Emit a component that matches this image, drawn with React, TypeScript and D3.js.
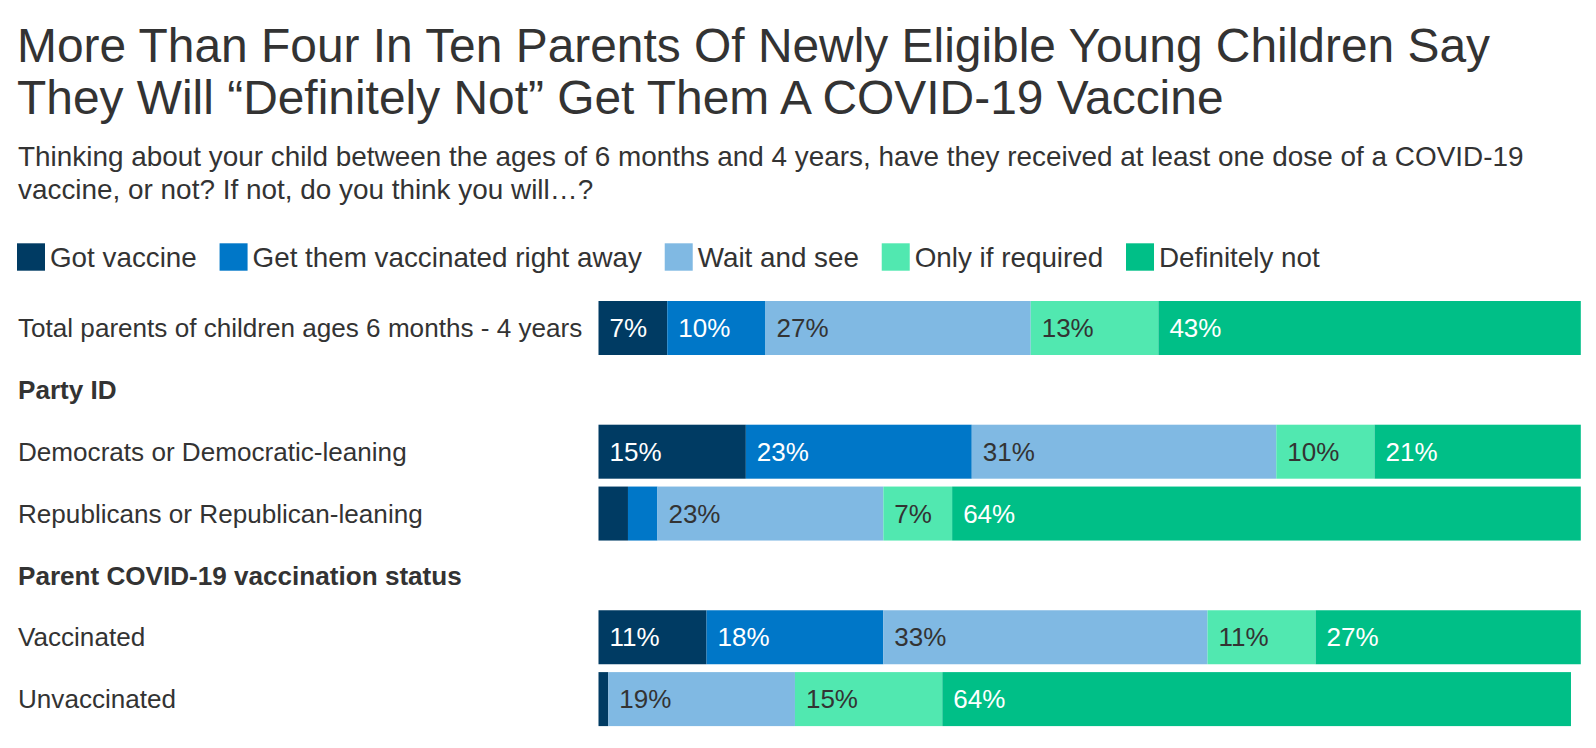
import React, { useMemo } from "react";
import * as d3 from "d3";

const title = [
  "More Than Four In Ten Parents Of Newly Eligible Young Children Say",
  "They Will \u201cDefinitely Not\u201d Get Them A COVID-19 Vaccine",
];
const subtitle = [
  "Thinking about your child between the ages of 6 months and 4 years, have they received at least one dose of a COVID-19",
  "vaccine, or not? If not, do you think you will\u2026?",
];

const seriesNames = [
  "Got vaccine",
  "Get them vaccinated right away",
  "Wait and see",
  "Only if required",
  "Definitely not",
];
const seriesColors = ["#003b63", "#0077c8", "#80b9e3", "#51e8b0", "#00bf87"];
const labelColors = ["#ffffff", "#ffffff", "#333333", "#333333", "#ffffff"];

const rowLabels = [
  "Total parents of children ages 6 months - 4 years",
  "Party ID",
  "Democrats or Democratic-leaning",
  "Republicans or Republican-leaning",
  "Parent COVID-19 vaccination status",
  "Vaccinated",
  "Unvaccinated",
];
const rowIsHeader = [false, true, false, false, true, false, false];

const gotVaccine = [7, null, 15, 3, null, 11, 1];
const rightAway = [10, null, 23, 3, null, 18, 0];
const waitAndSee = [27, null, 31, 23, null, 33, 19];
const onlyIfRequired = [13, null, 10, 7, null, 11, 15];
const definitelyNot = [43, null, 21, 64, null, 27, 64];

const seriesValues = [gotVaccine, rightAway, waitAndSee, onlyIfRequired, definitelyNot];

const FONT = "'Liberation Sans', Arial, Helvetica, sans-serif";
const TEXT = "#333333";

function measure(text: string, size: number, weight = "normal") {
  const c = document.createElement("canvas").getContext("2d")!;
  c.font = `${weight} ${size}px ${FONT}`;
  return c.measureText(text).width;
}

export default function App() {
  const W = 1596;
  const H = 748;

  const y = d3
    .scaleBand<number>()
    .domain(rowLabels.map((_, i) => i))
    .range([301, 726.1])
    .paddingInner(0.127)
    .paddingOuter(0);

  const x = d3.scaleLinear().domain([0, 100]).range([598.5, 1580.8]);

  const stackData = rowLabels.map((_, i) => {
    const o: Record<string, number> = {};
    seriesNames.forEach((s, k) => (o[s] = seriesValues[k][i] ?? 0));
    return o;
  });
  const stack = d3.stack<Record<string, number>>().keys(seriesNames)(stackData);

  const legendSize = 27.8;
  const legend = useMemo(() => {
    let cx = 17;
    return seriesNames.map((name) => {
      const item = { x: cx, name };
      cx += 33 + measure(name, legendSize) + 22.8;
      return item;
    });
  }, []);

  return (
    <svg
      width={W}
      height={H}
      style={{ position: "absolute", left: 0, top: 0, background: "#fff" }}
      fontFamily={FONT}
    >
      {title.map((t, i) => (
        <text key={i} x={17} y={62 + i * 51.5} fontSize={47.9} fill={TEXT}>
          {t}
        </text>
      ))}
      {subtitle.map((t, i) => (
        <text key={i} x={18} y={166 + i * 32.6} fontSize={27.9} fill={TEXT}>
          {t}
        </text>
      ))}
      {legend.map((l, k) => (
        <g key={k}>
          <rect x={l.x} y={243.3} width={28} height={27.4} fill={seriesColors[k]} />
          <text x={l.x + 33} y={257} dy="0.35em" fontSize={legendSize} fill={TEXT}>
            {l.name}
          </text>
        </g>
      ))}
      {rowLabels.map((r, i) => (
        <text
          key={r}
          x={18}
          y={y(i)! + y.bandwidth() / 2}
          dy="0.35em"
          fontSize={26.1}
          fontWeight={rowIsHeader[i] ? "bold" : "normal"}
          fill={TEXT}
        >
          {r}
        </text>
      ))}
      {stack.map((layer, k) => (
        <g key={k}>
          {layer.map((d, i) => {
            if (rowIsHeader[i]) return null;
            const v = d[1] - d[0];
            if (v <= 0) return null;
            const x0 = x(d[0]);
            const w = x(d[1]) - x0;
            return (
              <g key={i}>
                <rect x={x0} y={y(i)!} width={w} height={y.bandwidth()} fill={seriesColors[k]} />
                {v >= 5 && (
                  <text
                    x={x0 + 11}
                    y={y(i)! + y.bandwidth() / 2}
                    dy="0.35em"
                    fontSize={26}
                    fill={labelColors[k]}
                  >
                    {`${v}%`}
                  </text>
                )}
              </g>
            );
          })}
        </g>
      ))}
    </svg>
  );
}
